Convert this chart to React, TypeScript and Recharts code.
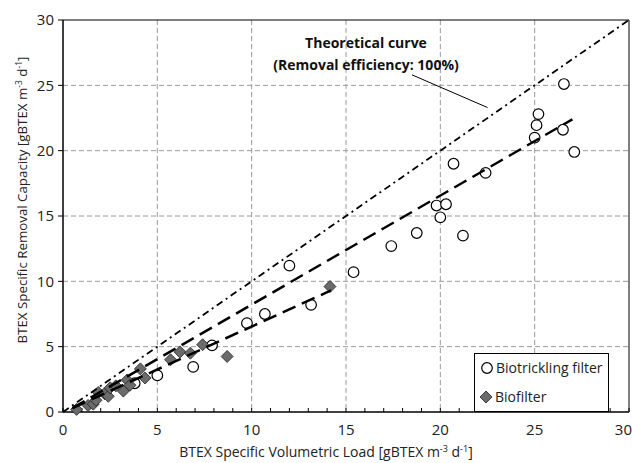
import React from "react";
import {
  ReferenceArea,
  ReferenceLine,
  CartesianGrid,
  Scatter,
  ScatterChart,
  XAxis,
  YAxis,
} from "recharts";

const FONT = "'Open Sans', 'Noto Sans', sans-serif";

// biotrickling filter (open circles)
const btfLoad = [3.8, 5.0, 6.9, 7.9, 9.75, 10.7, 12.0, 13.15, 15.4, 17.4, 18.75, 19.8, 20.0, 20.3, 20.7, 21.2, 22.4, 25.0, 25.1, 25.2, 26.5, 26.55, 27.1];
const btfCapacity = [2.2, 2.8, 3.45, 5.1, 6.8, 7.5, 11.2, 8.2, 10.7, 12.7, 13.7, 15.8, 14.9, 15.9, 19.0, 13.5, 18.3, 21.0, 21.95, 22.8, 21.6, 25.1, 19.9];

// biofilter (grey diamonds)
const bfLoad = [0.72, 1.33, 1.6, 1.75, 1.87, 2.2, 2.4, 2.5, 2.8, 3.2, 3.4, 3.55, 4.1, 4.35, 5.7, 6.2, 6.75, 7.4, 8.7, 14.15];
const bfCapacity = [0.2, 0.5, 0.6, 0.9, 1.5, 1.4, 1.2, 1.85, 2.0, 1.6, 2.45, 2.05, 3.3, 2.6, 4.0, 4.6, 4.5, 5.15, 4.25, 9.6];

// fitted trend lines and the 100% line (end points)
const btfTrendX = [0.5, 27.0];
const btfTrendY = [0.3, 22.4];
const bfTrendX = [0.5, 14.2];
const bfTrendY = [0.3, 9.3];
const theoryX = [0, 30];
const theoryY = [0, 30];
const pointerX = [18.5, 22.5];
const pointerY = [25.8, 23.3];

const majorTicks = [0, 5, 10, 15, 20, 25, 30];
const minorXTicks = Array.from({ length: 31 }, (_, i) => i);
const gridValues = [5, 10, 15, 20, 25];

const zip = (xs: number[], ys: number[]) => xs.map((x, i) => ({ x, y: ys[i] }));

const btfData = zip(btfLoad, btfCapacity);
const bfData = zip(bfLoad, bfCapacity);

const OpenCircle = (p: any) => (
  <circle cx={p.cx} cy={p.cy} r={5.3} fill="#fff" stroke="#000" strokeWidth={1.2} />
);
const Diamond = (p: any) => {
  const s = 6;
  return (
    <polygon
      points={`${p.cx},${p.cy - s} ${p.cx + s},${p.cy} ${p.cx},${p.cy + s} ${p.cx - s},${p.cy}`}
      fill="#6b6b6b"
      stroke="#222"
      strokeWidth={0.8}
    />
  );
};
const NoDot = () => <g />;

// only the multiples of 5 get a label; the last one is pulled inside the frame
const XTick = (p: any) => {
  const v = p.payload?.value;
  if (!majorTicks.includes(v)) return <g />;
  const last = v === 30;
  return (
    <text
      x={last ? p.x + 3 : p.x}
      y={p.y}
      dy="0.71em"
      textAnchor={last ? "end" : "middle"}
      fontSize={15}
      fill="#222"
      fontFamily={FONT}
    >
      {v}
    </text>
  );
};

export default function App() {
  return (
    <div style={{ position: "absolute", left: 0, top: 0, width: 632, height: 463, background: "#fff", fontFamily: FONT }}>
      <ScatterChart width={632} height={463} margin={{ top: 20, right: 3, bottom: 0, left: 0 }}>
        <CartesianGrid
          stroke="#9a9a9a"
          strokeDasharray="5 3"
          verticalValues={gridValues}
          horizontalValues={gridValues}
        />
        <XAxis
          type="number"
          dataKey="x"
          domain={[0, 30]}
          ticks={minorXTicks}
          interval={0}
          height={51}
          tickSize={-4}
          tickMargin={16}
          axisLine={{ stroke: "#000" }}
          tickLine={{ stroke: "#000" }}
          tick={XTick}
        />
        <YAxis
          type="number"
          dataKey="y"
          domain={[0, 30]}
          ticks={majorTicks}
          interval={0}
          width={63}
          tickSize={5}
          tickMargin={4}
          axisLine={{ stroke: "#000" }}
          tickLine={{ stroke: "#000" }}
          tick={{ fontSize: 15, fill: "#222", fontFamily: FONT }}
        />
        <ReferenceArea x1={0} x2={30} y1={0} y2={30} fill="none" stroke="#000" strokeWidth={1} />
        <Scatter data={btfData} shape={OpenCircle} isAnimationActive={false} />
        <Scatter data={bfData} shape={Diamond} isAnimationActive={false} />
        <Scatter
          data={zip(theoryX, theoryY)}
          shape={NoDot}
          line={{ stroke: "#000", strokeWidth: 1.8, strokeDasharray: "7 4 2 4" }}
          isAnimationActive={false}
        />
        <Scatter
          data={zip(btfTrendX, btfTrendY)}
          shape={NoDot}
          line={{ stroke: "#000", strokeWidth: 2.5, strokeDasharray: "14 7" }}
          isAnimationActive={false}
        />
        <Scatter
          data={zip(bfTrendX, bfTrendY)}
          shape={NoDot}
          line={{ stroke: "#000", strokeWidth: 2.5, strokeDasharray: "14 7" }}
          isAnimationActive={false}
        />
        <ReferenceLine
          segment={zip(pointerX, pointerY)}
          stroke="#000"
          strokeWidth={1}
          ifOverflow="visible"
        />
      </ScatterChart>

      <svg
        width={632}
        height={463}
        style={{ position: "absolute", left: 0, top: 0, pointerEvents: "none" }}
        fontFamily={FONT}
        fill="#222"
      >
        <text x={326} y={457} textAnchor="middle" fontSize={14}>
          BTEX Specific Volumetric Load [gBTEX m
          <tspan dy={-5} fontSize={9}>-3</tspan>
          <tspan dy={5}> d</tspan>
          <tspan dy={-5} fontSize={9}>-1</tspan>
          <tspan dy={5}>]</tspan>
        </text>
        <text transform="translate(27,200) rotate(-90)" textAnchor="middle" fontSize={13.3}>
          BTEX Specific Removal Capacity [gBTEX m
          <tspan dy={-5} fontSize={8.5}>-3</tspan>
          <tspan dy={5}> d</tspan>
          <tspan dy={-5} fontSize={8.5}>-1</tspan>
          <tspan dy={5}>]</tspan>
        </text>

        <text x={366} y={48} textAnchor="middle" fontSize={14} fontWeight="bold" fill="#111">
          Theoretical curve
        </text>
        <text x={366} y={70} textAnchor="middle" fontSize={14} fontWeight="bold" fill="#111">
          (Removal efficiency: 100%)
        </text>

        <rect x={474.5} y={353.5} width={134} height={58} fill="#fff" stroke="#000" />
        <circle cx={487} cy={368} r={5.3} fill="#fff" stroke="#000" strokeWidth={1.2} />
        <text x={496} y={373} fontSize={14}>Biotrickling filter</text>
        <polygon points="486,391 492,397 486,403 480,397" fill="#6b6b6b" stroke="#222" strokeWidth={0.8} />
        <text x={495} y={402} fontSize={14}>Biofilter</text>
      </svg>
    </div>
  );
}
